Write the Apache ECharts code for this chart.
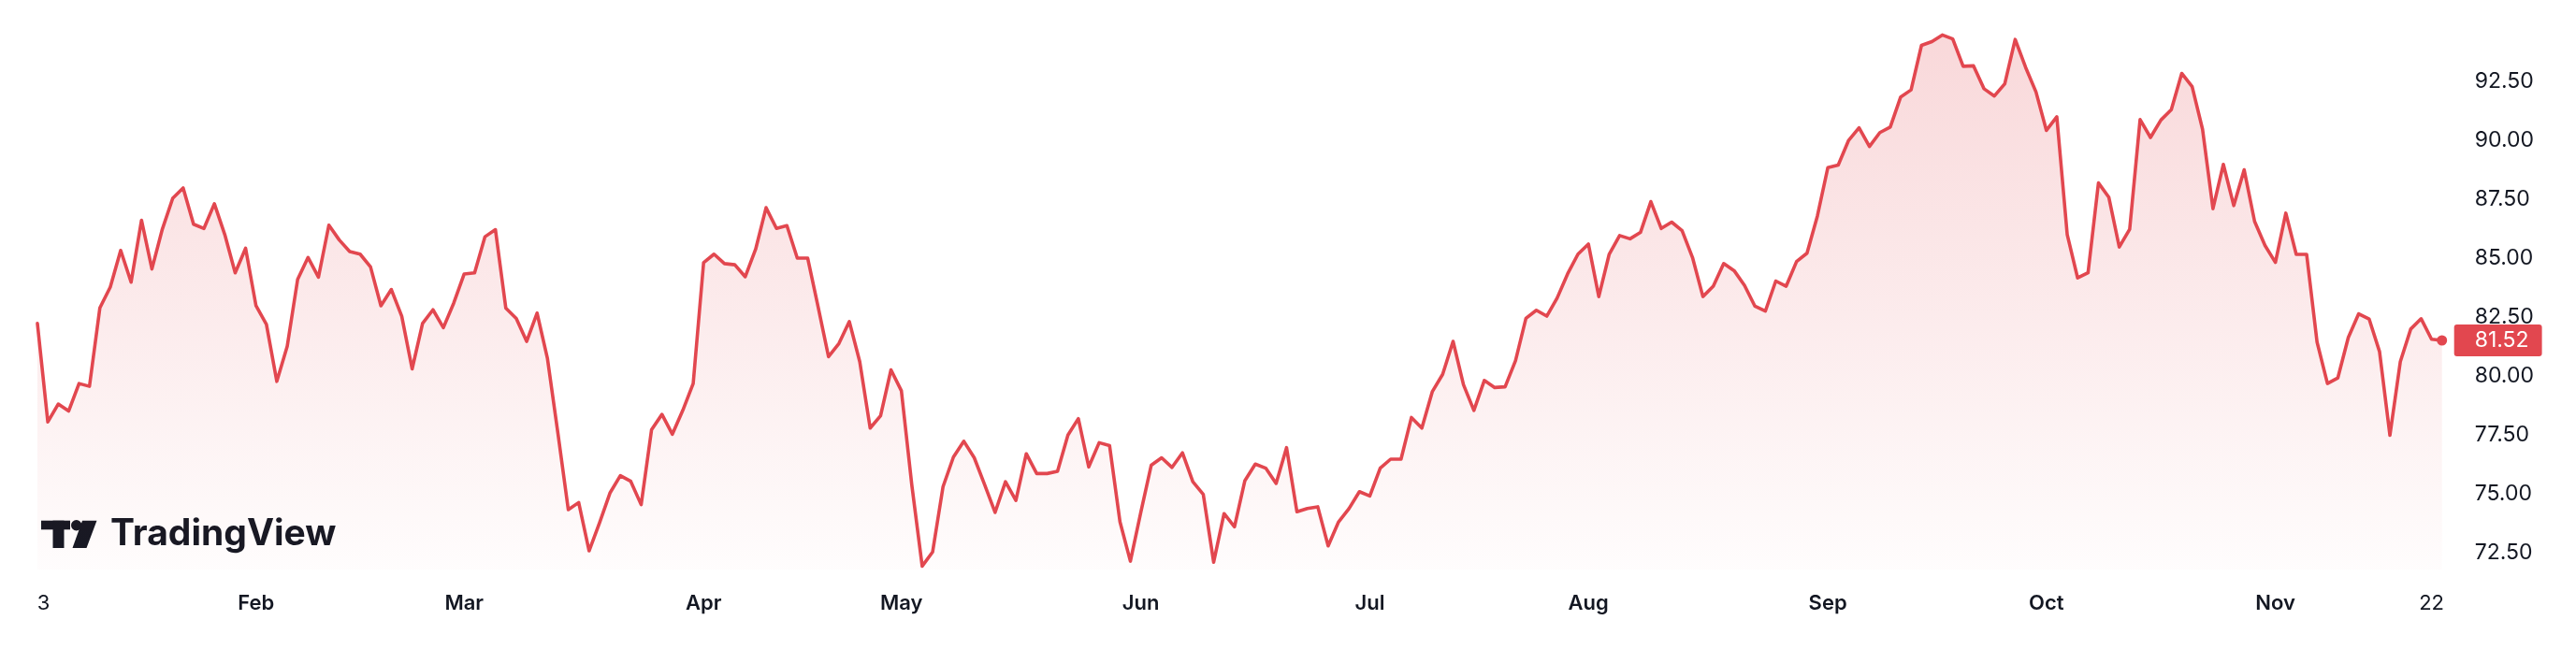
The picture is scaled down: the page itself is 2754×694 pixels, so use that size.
<!DOCTYPE html>
<html>
<head>
<meta charset="utf-8">
<script src="https://cdn.jsdelivr.net/npm/echarts@6/dist/echarts.min.js"></script>
<style>
html,body{margin:0;padding:0;background:#ffffff;}
#chart{width:2754px;height:694px;}
</style>
</head>
<body>
<div id="chart"></div>
<script>
// ---- calendar (trading days, Jan 3 – Nov 23, 2023) ----
const startDate = '2023-01-03';
const endDate = '2023-11-23';
const closedDays = ['2023-04-07'];

// ---- closing values by month ----
const jan = [82.24,78.06,78.82,78.52,79.69,79.57,82.90,83.78,85.34,83.99,86.62,84.55,86.24,87.55,87.99,86.45,86.27,87.32,86.01,84.39,85.43];
const feb = [82.99,82.20,79.78,81.27,84.11,85.04,84.20,86.41,85.78,85.29,85.18,84.64,82.99,83.68,82.55,80.31,82.24,82.82,82.06,83.11];
const mar = [84.34,84.39,85.92,86.22,82.89,82.45,81.48,82.68,80.75,77.59,74.34,74.64,72.59,73.78,75.04,75.78,75.54,74.55,77.73,78.38,77.54,78.55,79.69];
const apr = [84.82,85.18,84.78,84.73,84.22,85.39,87.15,86.27,86.39,85.01,85.01,82.94,80.83,81.39,82.32,80.62,77.80,78.32,80.27];
const may = [79.38,75.39,71.94,72.54,75.31,76.57,77.24,76.54,75.39,74.22,75.52,74.73,76.71,75.87,75.87,75.96,77.50,78.20,76.15,77.18,77.06,73.82,72.15];
const jun = [74.22,76.22,76.54,76.13,76.75,75.52,74.99,72.11,74.17,73.61,75.57,76.27,76.10,75.45,76.97,74.25,74.39,74.46,72.80,73.82,74.38,75.10];
const jul = [74.92,76.10,76.48,76.48,78.25,77.80,79.34,80.08,81.48,79.64,78.55,79.82,79.52,79.55,80.66,82.46,82.80,82.55,83.32,84.34,85.18];
const aug = [85.61,83.38,85.18,85.97,85.83,86.10,87.41,86.27,86.54,86.18,85.04,83.38,83.82,84.78,84.48,83.85,82.97,82.76,84.04,83.82,84.87,85.22,86.80];
const sep = [88.85,88.96,90.01,90.54,89.75,90.34,90.57,91.85,92.15,94.04,94.20,94.48,94.31,93.15,93.17,92.20,91.89,92.41,94.29,93.11,92.06];
const oct = [90.43,91.01,86.01,84.17,84.39,88.20,87.59,85.48,86.24,90.89,90.13,90.87,91.31,92.85,92.29,90.48,87.11,88.99,87.24,88.76,86.57,85.55];
const nov = [84.83,86.92,85.17,85.17,81.45,79.69,79.93,81.64,82.65,82.43,81.05,77.49,80.62,82.00,82.44,81.57,81.52];

// ---- x-axis tick labels ----
const tickDates  = ['2023-01-03','2023-02-01','2023-03-01','2023-04-03','2023-05-01','2023-06-01','2023-07-03','2023-08-01','2023-09-01','2023-10-02','2023-11-01','2023-11-22'];
const tickLabels = ['3','Feb','Mar','Apr','May','Jun','Jul','Aug','Sep','Oct','Nov','22'];
const tickIsMonth = [false,true,true,true,true,true,true,true,true,true,true,false];

// ---- y-axis ticks ----
const yMin = 70, yMax = 95, yStep = 2.5;
const fillBase = 71.8;

function buildTradingDays(start, end, closed) {
  const out = [];
  const d = new Date(start + 'T00:00:00Z');
  const last = new Date(end + 'T00:00:00Z');
  while (d <= last) {
    const wd = d.getUTCDay();
    const s = d.toISOString().slice(0, 10);
    if (wd !== 0 && wd !== 6 && closed.indexOf(s) < 0) out.push(s);
    d.setUTCDate(d.getUTCDate() + 1);
  }
  return out;
}

const categories = buildTradingDays(startDate, endDate, closedDays);
const values = [].concat(jan, feb, mar, apr, may, jun, jul, aug, sep, oct, nov);
const lastIdx = values.length - 1;
const lastValue = values[lastIdx];

const tickMap = {};
tickDates.forEach((d, i) => { tickMap[d] = i; });

const lineColor = '#e2474f';
const textColor = '#131722';
const FONT = 'Inter, Roboto, "Noto Sans", sans-serif';

const chart = echarts.init(document.getElementById('chart'), null, {renderer: 'canvas'});

const option = {
  animation: false,
  backgroundColor: '#ffffff',
  grid: {left: 40, right: 143.3, top: 24.3, bottom: 39.7, containLabel: false},
  xAxis: {
    type: 'category',
    data: categories,
    boundaryGap: false,
    offset: -42.3,
    axisLine: {show: false},
    axisTick: {show: false},
    splitLine: {show: false},
    axisLabel: {
      margin: 33,
      verticalAlign: 'middle',
      interval: function (index, value) { return tickMap.hasOwnProperty(value); },
      formatter: function (value) {
        const k = tickMap[value];
        if (k === undefined) return '';
        if (k === 0) return '{f|' + tickLabels[k] + '}';
        return (tickIsMonth[k] ? '{m|' : '{n|') + tickLabels[k] + '}';
      },
      rich: {
        m: {fontFamily: FONT, fontSize: 22, fontWeight: 600, color: textColor},
        n: {fontFamily: FONT, fontSize: 22, fontWeight: 400, color: textColor},
        f: {fontFamily: FONT, fontSize: 22, fontWeight: 400, color: textColor, padding: [0, 0, 0, 13]}
      }
    }
  },
  yAxis: {
    type: 'value',
    position: 'right',
    min: yMin,
    max: yMax,
    interval: yStep,
    axisLine: {show: false},
    axisTick: {show: false},
    splitLine: {show: false},
    axisLabel: {
      margin: 35,
      showMinLabel: false,
      showMaxLabel: false,
      fontFamily: FONT,
      fontSize: 23,
      color: textColor,
      formatter: function (v) { return v.toFixed(2); }
    }
  },
  series: [{
    type: 'line',
    data: values,
    symbol: 'none',
    showSymbol: false,
    lineStyle: {color: lineColor, width: 3.6, join: 'round', cap: 'round'},
    areaStyle: {
      origin: fillBase,
      color: new echarts.graphic.LinearGradient(0, 0, 0, 1, [
        {offset: 0, color: 'rgba(226,71,79,0.30)'},
        {offset: 1, color: 'rgba(226,71,79,0.02)'}
      ])
    },
    markLine: {
      silent: true,
      animation: false,
      symbol: ['none', 'none'],
      lineStyle: {color: 'rgba(0,0,0,0)', width: 0, type: 'solid'},
      label: {
        show: true,
        position: 'end',
        distance: 13,
        formatter: lastValue.toFixed(2),
        color: '#ffffff',
        fontFamily: FONT,
        fontSize: 23,
        lineHeight: 23,
        backgroundColor: lineColor,
        borderRadius: 3,
        padding: [6, 14, 5, 22]
      },
      emphasis: {disabled: true},
      data: [{yAxis: lastValue}]
    },
    markPoint: {
      silent: true,
      animation: false,
      symbol: 'circle',
      symbolSize: 11,
      itemStyle: {color: lineColor},
      label: {show: false},
      data: [{coord: [categories[lastIdx], lastValue]}]
    }
  }],
  graphic: [{
    type: 'group',
    z: 100,
    children: [
      {type: 'rect', shape: {x: 44, y: 556.7, width: 31, height: 9.6}, style: {fill: textColor}},
      {type: 'rect', shape: {x: 56.5, y: 556.7, width: 12, height: 29.3}, style: {fill: textColor}},
      {type: 'circle', shape: {cx: 81.7, cy: 561.7, r: 5.7}, style: {fill: textColor}},
      {type: 'polygon', shape: {points: [[88, 556.7], [103.5, 556.7], [92.5, 586], [77.5, 586]]}, style: {fill: textColor}},
      {type: 'text', style: {x: 118, y: 571.3, text: 'TradingView', fill: textColor,
        font: '700 39px Inter, Roboto, sans-serif', verticalAlign: 'middle', align: 'left'}}
    ]
  }]
};

chart.setOption(option);
</script>
</body>
</html>
